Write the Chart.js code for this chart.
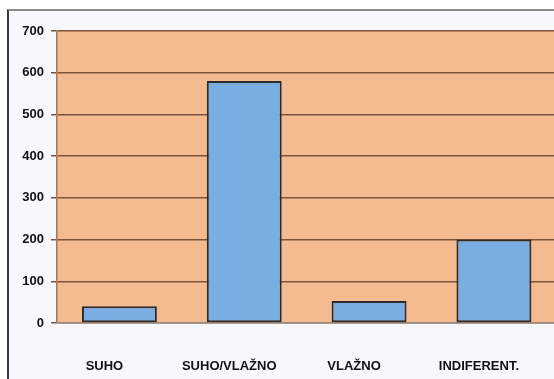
<!DOCTYPE html>
<html>
<head>
<meta charset="utf-8">
<script src="https://cdn.jsdelivr.net/npm/chart.js@4"></script>
<style>
  html, body { margin: 0; padding: 0; background: #ffffff; overflow: hidden; }
  #frame {
    position: absolute; left: 7px; top: 9px; width: 600px; height: 400px;
    border-left: 2px solid #3a3a3a; border-top: 2px solid #8c8c8c;
    background: #f6f8fb;
  }
  #wrap { position: absolute; left: 0; top: 0; width: 570px; height: 379px; }
</style>
</head>
<body>
<div id="frame"></div>
<div id="wrap"><canvas id="chart" width="570" height="379"></canvas></div>
<script>
// Categories and values
const categories = ['SUHO', 'SUHO/VLAŽNO', 'VLAŽNO', 'INDIFERENT.'];
const counts = [40, 580, 53, 200];
const yTicks = [0, 100, 200, 300, 400, 500, 600, 700];

// Peach fill behind the plot area
const plotBackground = {
    id: 'plotBackground',
    beforeDraw(chart) {
        const { ctx, chartArea: a } = chart;
        ctx.save();
        ctx.fillStyle = '#f3bb8f';
        ctx.fillRect(a.left, a.top, a.right - a.left, a.bottom - a.top);
        ctx.restore();
    }
};

const ctx = document.getElementById('chart').getContext('2d');
new Chart(ctx, {
    type: 'bar',
    data: {
        labels: categories,
        datasets: [{
            data: counts,
            backgroundColor: '#7aaee2',
            borderColor: '#2b2b2b',
            borderWidth: 2,
            borderSkipped: false,
            barPercentage: 0.6,
            categoryPercentage: 1,
        }]
    },
    options: {
        responsive: false,
        animation: false,
        layout: { padding: { top: 31, left: 0, right: 0, bottom: 0 } },
        plugins: { legend: { display: false }, tooltip: { enabled: false } },
        scales: {
            x: {
                grid: { display: false, drawTicks: false },
                border: { display: true, color: '#9a8a80', width: 1.5 },
                ticks: {
                    color: '#111',
                    font: { family: 'Liberation Sans', size: 13, weight: 'bold' },
                    padding: 36,
                    labelOffset: -15,
                    maxRotation: 0,
                    autoSkip: false,
                },
                afterFit(scale) { scale.height = 56; }
            },
            y: {
                min: 0,
                max: 700,
                afterBuildTicks(scale) { scale.ticks = yTicks.map(v => ({ value: v })); },
                grid: { color: '#7d5236', lineWidth: 1.5, tickLength: 6 },
                border: { display: true, color: '#9a7a64', width: 1.5 },
                ticks: {
                    color: '#111',
                    font: { family: 'Liberation Sans', size: 13, weight: 'bold' },
                    padding: 7,
                    autoSkip: false,
                },
                afterFit(scale) { scale.width = 57; }
            }
        }
    },
    plugins: [plotBackground]
});
</script>
</body>
</html>
